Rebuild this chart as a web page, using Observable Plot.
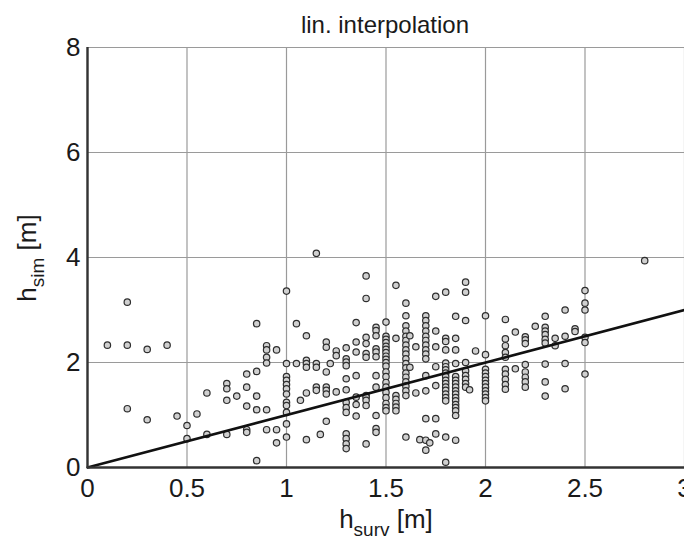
<!DOCTYPE html>
<html>
<head>
<meta charset="utf-8">
<script src="https://cdn.jsdelivr.net/npm/d3@7"></script>
<script src="https://cdn.jsdelivr.net/npm/@observablehq/plot@0.6"></script>
<style>
  html, body { margin: 0; padding: 0; background: #fff; }
  svg { display: block; }
</style>
</head>
<body>
<div id="chart"></div>
<script>
// Columns of surveyed heights (x) and the simulated heights read at each (y)
const columns = [
  [0.1, [2.33]],
  [0.2, [3.15, 2.33, 1.12]],
  [0.3, [2.25, 0.91]],
  [0.4, [2.33]],
  [0.45, [0.98]],
  [0.5, [0.8, 0.55]],
  [0.55, [1.02]],
  [0.6, [1.42, 0.63]],
  [0.7, [1.6, 1.5, 1.28, 0.63]],
  [0.75, [1.36]],
  [0.8, [1.78, 1.53, 1.17, 0.72, 0.67]],
  [0.85, [2.74, 1.83, 1.36, 1.1, 0.13]],
  [0.9, [2.32, 2.24, 2.1, 1.99, 1.1, 0.72]],
  [0.95, [2.24, 0.72, 0.47]],
  [1.0, [3.36, 1.98, 1.73, 1.66, 1.58, 1.5, 1.4, 1.24, 1.18, 1.05, 0.83, 0.58]],
  [1.05, [2.74, 1.98]],
  [1.07, [1.28]],
  [1.1, [2.51, 2.04, 1.98, 1.91, 1.42, 0.53]],
  [1.15, [4.08, 1.98, 1.91, 1.53, 1.47]],
  [1.17, [0.63]],
  [1.2, [2.39, 2.29, 1.82, 1.53, 1.47, 1.4, 0.88]],
  [1.22, [1.98]],
  [1.25, [2.22, 2.13, 1.44]],
  [1.3, [2.28, 2.07, 2.01, 1.94, 1.69, 1.48, 1.24, 1.14, 1.05, 0.64, 0.55, 0.45, 0.36]],
  [1.35, [2.76, 2.39, 2.2, 1.75, 1.34, 1.2, 0.98]],
  [1.4, [3.65, 3.22, 2.48, 2.36, 2.17, 2.1, 1.37, 1.34, 1.28, 1.18, 0.45]],
  [1.45, [2.67, 2.61, 2.51, 2.26, 2.2, 2.11, 1.75, 1.53, 0.99, 0.74, 0.67]],
  [1.5, [2.77, 2.5, 2.44, 2.38, 2.31, 2.25, 2.19, 2.12, 2.06, 2.0, 1.93, 1.82, 1.73, 1.62, 1.53, 1.43, 1.33, 1.22, 1.14, 1.08]],
  [1.55, [3.47, 2.46, 1.37, 1.3, 1.22, 1.15, 1.08]],
  [1.6, [3.13, 2.89, 2.7, 2.6, 2.5, 2.42, 2.33, 2.24, 2.16, 2.07, 1.98, 1.9, 1.8, 1.72, 1.63, 1.55, 1.46, 1.37, 0.58]],
  [1.62, [2.51, 1.91]],
  [1.65, [2.3, 1.42]],
  [1.67, [0.53]],
  [1.7, [2.89, 2.8, 2.7, 2.6, 2.5, 2.42, 2.33, 2.24, 2.16, 2.07, 1.75, 1.46, 0.93, 0.52, 0.33]],
  [1.72, [0.47]],
  [1.75, [3.26, 2.6, 2.3, 1.92, 1.56, 0.93, 0.64]],
  [1.8, [3.34, 2.46, 2.4, 2.24, 1.99, 1.92, 1.86, 1.8, 1.73, 1.66, 1.6, 1.53, 1.47, 1.4, 1.33, 1.27, 0.58, 0.1]],
  [1.85, [2.88, 2.46, 2.24, 1.98, 1.73, 1.66, 1.6, 1.53, 1.46, 1.4, 1.33, 1.27, 1.2, 1.14, 1.08, 0.99, 0.52]],
  [1.9, [3.53, 3.34, 2.8, 2.0, 1.84, 1.75, 1.68, 1.6, 1.53]],
  [1.92, [1.48]],
  [1.95, [2.22]],
  [2.0, [2.89, 2.15, 1.87, 1.8, 1.73, 1.66, 1.6, 1.53, 1.46, 1.4, 1.33, 1.27]],
  [2.1, [2.82, 2.45, 2.32, 2.19, 2.1, 1.87, 1.78, 1.68, 1.58, 1.49]],
  [2.15, [2.58, 1.88]],
  [2.2, [2.49, 2.43, 2.36, 1.96, 1.82, 1.72, 1.63, 1.53]],
  [2.25, [2.69]],
  [2.3, [2.88, 2.67, 2.6, 2.53, 2.44, 2.37, 1.97, 1.63, 1.36]],
  [2.35, [2.46, 2.32]],
  [2.4, [3.0, 2.5, 1.98, 1.5]],
  [2.45, [2.64, 2.59]],
  [2.5, [3.37, 3.13, 3.0, 2.48, 2.38, 1.78]],
  [2.8, [3.94]]
];

const hSurv = [];
const hSim = [];
for (const [x, ys] of columns) for (const y of ys) { hSurv.push(x); hSim.push(y); }

// 1:1 reference line end points
const lineX = [0, 3];
const lineY = [0, 3];

const xTicks = [0, 0.5, 1, 1.5, 2, 2.5, 3];
const yTicks = [0, 2, 4, 6, 8];

const titleText = "lin. interpolation";

const points = hSurv.map((x, i) => ({x, y: hSim[i]}));
const linePts = lineX.map((x, i) => ({x, y: lineY[i]}));

const font = "'Liberation Sans', Arial, Helvetica, sans-serif";

const chart = Plot.plot({
  width: 684,
  height: 548,
  marginLeft: 87,
  marginRight: 0,
  marginTop: 47,
  marginBottom: 81,
  style: {fontFamily: font, background: "#fff", overflow: "visible"},
  x: {domain: [0, 3], ticks: xTicks},
  y: {domain: [0, 8], ticks: yTicks},
  marks: [
    Plot.ruleX(xTicks, {stroke: "#9a9a9a", strokeWidth: 1.2}),
    Plot.ruleY(yTicks, {stroke: "#9a9a9a", strokeWidth: 1.2}),
    Plot.axisX({ticks: xTicks, tickSize: 0, tickPadding: 11, fontSize: 26, fill: "#1a1a1a", label: null, tickFormat: d => String(d)}),
    Plot.axisY({ticks: yTicks, tickSize: 0, tickPadding: 7, fontSize: 26, fill: "#1a1a1a", label: null}),
    Plot.dot(points, {x: "x", y: "y", r: 3.2, stroke: "#2e2e2e", strokeWidth: 1.2, fill: "#d0d0d0"}),
    Plot.line(linePts, {x: "x", y: "y", stroke: "#111", strokeWidth: 2.6}),
    Plot.ruleX([0], {stroke: "#333", strokeWidth: 2.4}),
    Plot.ruleY([0], {stroke: "#333", strokeWidth: 2.4})
  ]
});

document.getElementById("chart").appendChild(chart);

const svg = d3.select(chart);
// Title
svg.append("text")
  .attr("x", 385).attr("y", 33)
  .attr("text-anchor", "middle")
  .attr("font-family", font).attr("font-size", 24).attr("fill", "#1a1a1a")
  .text(titleText);

// X axis label: h_surv [m]
const xl = svg.append("text")
  .attr("x", 386).attr("y", 528)
  .attr("text-anchor", "middle")
  .attr("font-family", font).attr("font-size", 26).attr("fill", "#1a1a1a");
xl.append("tspan").text("h");
xl.append("tspan").attr("font-size", 19).attr("dy", 8).text("surv");
xl.append("tspan").attr("dy", -8).text(" [m]");

// Y axis label: h_sim [m]
const yl = svg.append("text")
  .attr("transform", "translate(36,258) rotate(-90)")
  .attr("text-anchor", "middle")
  .attr("font-family", font).attr("font-size", 26).attr("fill", "#1a1a1a");
yl.append("tspan").text("h");
yl.append("tspan").attr("font-size", 19).attr("dy", 8).text("sim");
yl.append("tspan").attr("dy", -8).text(" [m]");
</script>
</body>
</html>
